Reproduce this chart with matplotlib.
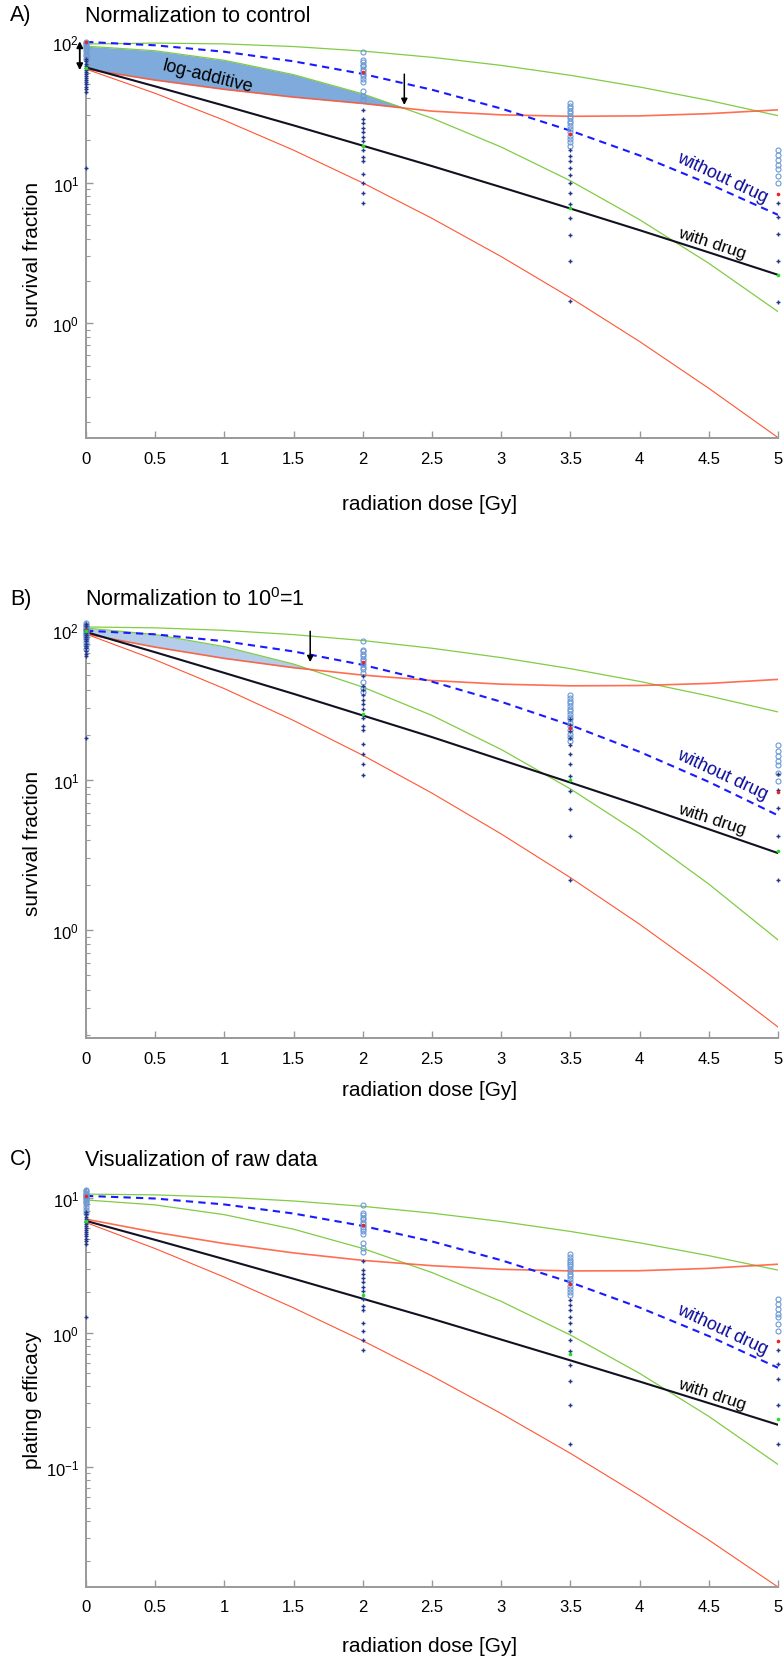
import numpy as np
import matplotlib
matplotlib.use("Agg")
import matplotlib.pyplot as plt
from matplotlib.ticker import LogLocator, FixedLocator, FuncFormatter, NullFormatter, LogFormatterSciNotation

plt.rcParams['font.family'] = ['Liberation Sans', 'DejaVu Sans']
plt.rcParams['mathtext.fontset'] = 'custom'
plt.rcParams['mathtext.rm'] = 'Liberation Sans'
plt.rcParams['mathtext.it'] = 'Liberation Sans:italic'

#----------------------------------------------------------------------
# fitted curves at every 0.5 Gy
doses = [0, 0.5, 1, 1.5, 2, 2.5, 3, 3.5, 4, 4.5, 5]

# A) normalization to control
a_nodrug = [100, 94.6, 85.1, 72.8, 59.2, 45.7, 33.6, 23.4, 15.6, 9.8, 5.9]
a_drug = [65.9, 48.3, 35.2, 25.5, 18.3, 13.1, 9.28, 6.54, 4.59, 3.19, 2.21]
a_green_hi = [96.6, 98.1, 96.8, 92.7, 86.1, 77.7, 68.1, 57.9, 47.8, 38.4, 29.9]
a_green_lo = [93.3, 86.5, 74.0, 58.5, 42.7, 28.7, 17.9, 10.3, 5.45, 2.67, 1.21]
a_red_hi = [64.1, 53.5, 46.0, 40.5, 36.5, 32.2, 30.3, 29.6, 29.8, 30.9, 32.9]
a_red_lo = [64.1, 43.1, 27.7, 17.0, 9.95, 5.57, 2.98, 1.52, 0.742, 0.345, 0.154]

# B) normalization to 10^0 = 1
b_nodrug = [98.9, 93.5, 84.1, 71.9, 58.5, 45.2, 33.2, 23.2, 15.4, 9.7, 5.8]
b_drug = [96.9, 71.0, 51.7, 37.5, 26.9, 19.3, 13.6, 9.6, 6.75, 4.69, 3.25]
b_green_hi = [104.7, 103.3, 99.4, 93.1, 85.0, 75.5, 65.4, 55.2, 45.4, 36.3, 28.4]
b_green_lo = [103.0, 93.2, 77.4, 59.2, 41.6, 26.9, 15.96, 8.71, 4.38, 2.02, 0.857]
b_red_hi = [94.0, 76.8, 64.6, 56.0, 50.0, 46.0, 43.5, 42.4, 42.6, 44.0, 46.8]
b_red_lo = [94.0, 63.2, 40.6, 24.9, 14.6, 8.16, 4.36, 2.23, 1.09, 0.506, 0.225]

# C) raw data (plating efficacy)
c_nodrug = [10.40, 9.94, 8.98, 7.69, 6.22, 4.77, 3.46, 2.37, 1.54, 0.945, 0.549]
c_drug = [6.78, 4.90, 3.52, 2.52, 1.79, 1.27, 0.890, 0.623, 0.434, 0.300, 0.207]
c_green_hi = [10.72, 10.58, 10.17, 9.53, 8.70, 7.74, 6.71, 5.66, 4.66, 3.74, 2.92]
c_green_lo = [9.70, 8.91, 7.54, 5.88, 4.23, 2.80, 1.71, 0.962, 0.499, 0.239, 0.105]
c_red_hi = [6.98, 5.58, 4.60, 3.92, 3.45, 3.15, 2.96, 2.88, 2.89, 3.01, 3.23]
c_red_lo = [6.59, 4.22, 2.59, 1.53, 0.872, 0.477, 0.251, 0.127, 0.0616, 0.0288, 0.0129]

#----------------------------------------------------------------------
# measured plating efficacy (raw), one list per dose
meas_doses = [0, 2, 3.5, 5]
pe_nodrug = [[11.6, 11.3, 11.0, 10.8, 10.6, 10.4, 10.2, 10.0, 9.8, 9.6, 9.3, 9.0, 8.6, 8.2, 7.8],
             [8.84, 7.70, 7.49, 7.18, 6.97, 6.66, 6.45, 6.14, 5.93, 5.67, 5.41, 4.68, 4.26, 4.01],
             [3.85, 3.64, 3.50, 3.37, 3.23, 3.11, 2.98, 2.86, 2.75, 2.64, 2.50, 2.37, 2.24, 2.12, 2.01, 1.90],
             [1.78, 1.63, 1.51, 1.38, 1.30, 1.16, 1.03]]
pe_drug = [[7.9, 7.6, 7.3, 7.0, 6.8, 6.6, 6.4, 6.2, 6.0, 5.8, 5.6, 5.4, 5.2, 5.0, 4.8, 4.6, 1.32],
           [3.41, 2.94, 2.75, 2.54, 2.37, 2.20, 2.05, 1.78, 1.59, 1.48, 1.19, 1.03, 0.88, 0.74],
           [1.76, 1.61, 1.47, 1.31, 1.18, 1.03, 0.88, 0.73, 0.58, 0.44, 0.29, 0.149],
           [0.75, 0.59, 0.45, 0.29, 0.148]]
pe_nodrug_mean = [10.4, 6.32, 2.30, 0.87]
pe_drug_mean = [6.78, 1.90, 0.69, 0.23]

# control plating efficacies used for normalization
ctrl_nodrug = 10.4
ctrl_drug = 6.9

#----------------------------------------------------------------------
W, H = 784, 1658
fig = plt.figure(figsize=(W / 100, H / 100), dpi=100)

GREEN = '#80cc44'
RED = '#ff5533'
BLUE = '#1a1aff'
AXC = '#999999'


def box(top, bottom):
    return [86 / W, 1 - bottom / H, 692 / W, (bottom - top) / H]


def in_range(vals, lo, hi):
    vals = np.asarray(vals, dtype=float)
    return vals[(vals >= lo) & (vals <= hi)]


def draw(ax, nd, dr, ghi, glo, rhi, rlo, f_nd, f_dr, ylim, fill=None, mean_drug_col='#22dd22'):
    ax.set_yscale('log')
    ax.set_xlim(0, 5)
    ax.set_ylim(*ylim)
    if fill is not None:
        g = np.array(glo)
        r = np.array(rhi)
        ax.fill_between(doses, glo, rhi, where=g >= r, interpolate=True,
                        color=fill, lw=0, zorder=1)
    ax.plot(doses, ghi, color=GREEN, lw=0.9, zorder=2)
    ax.plot(doses, glo, color=GREEN, lw=0.9, zorder=2)
    ax.plot(doses, rhi, color=RED, lw=1.2, alpha=0.85, zorder=2)
    ax.plot(doses, rlo, color=RED, lw=0.8, zorder=2)
    ax.plot(doses, dr, color='#111122', lw=1.5, zorder=2)
    ax.plot(doses, nd, color=BLUE, lw=1.5, ls=(0, (3.5, 2.5)), zorder=2)

    lo, hi = ylim
    for d, vn, vd in zip(meas_doses, pe_nodrug, pe_drug):
        yn = in_range(np.array(vn) * f_nd, lo, hi)
        yd = in_range(np.array(vd) * f_dr, lo, hi)
        ax.plot([d] * len(yn), yn, 'o', mfc='none', mec='#6c9ad6', ms=3.6, mew=0.8,
                clip_on=False, zorder=3)
        ax.plot([d] * len(yd), yd, '+', color='#23358c', ms=3.2, mew=1.0,
                clip_on=False, zorder=4)
    mn = np.array(pe_nodrug_mean) * f_nd
    md = np.array(pe_drug_mean) * f_dr
    ax.plot(meas_doses, mn, 'o', color='#ee2222', ms=2.6, mew=0, clip_on=False, zorder=5)
    ax.plot(meas_doses, md, 'o', color=mean_drug_col, ms=2.6, mew=0, clip_on=False, zorder=5)

    for s in ['top', 'right']:
        ax.spines[s].set_visible(False)
    for s in ['left', 'bottom']:
        ax.spines[s].set_color(AXC)
        ax.spines[s].set_linewidth(1.4)
    ax.xaxis.set_major_locator(FixedLocator([0, 0.5, 1, 1.5, 2, 2.5, 3, 3.5, 4, 4.5, 5]))
    ax.xaxis.set_major_formatter(FuncFormatter(lambda v, p: '%g' % v))
    ax.yaxis.set_major_locator(LogLocator(base=10))
    ax.yaxis.set_major_formatter(LogFormatterSciNotation())
    ax.yaxis.set_minor_locator(LogLocator(base=10, subs=np.arange(2, 10)))
    ax.yaxis.set_minor_formatter(NullFormatter())
    ax.tick_params(which='both', direction='in', color=AXC, labelsize=12, labelcolor='black')
    ax.tick_params(which='major', length=5, width=1)
    ax.tick_params(which='minor', length=3, width=0.8)
    ax.tick_params(axis='x', pad=9)
    ax.tick_params(axis='y', pad=5)


def labels(ax, nd_xy, dr_xy, rot_nd=-25, rot_dr=-18):
    ax.text(*nd_xy, 'without drug', color='#0c0c9c', fontsize=13, rotation=rot_nd,
            ha='center', va='center', rotation_mode='anchor')
    ax.text(*dr_xy, 'with drug', color='black', fontsize=12.5, rotation=rot_dr,
            ha='center', va='center', rotation_mode='anchor')


# ---------------- A
axA = fig.add_axes(box(42.3, 439))
draw(axA, a_nodrug, a_drug, a_green_hi, a_green_lo, a_red_hi, a_red_lo,
     100 / ctrl_nodrug, 100 / ctrl_nodrug, (0.153, 101), fill='#7eaadc')
axA.text(0.88, 57, 'log-additive', fontsize=13, rotation=-14, ha='center', va='center',
         rotation_mode='anchor')
labels(axA, (4.6, 11.0), (4.52, 3.76))
axA.annotate('', xy=(-0.045, 63), xytext=(-0.045, 101),
             arrowprops=dict(arrowstyle='<|-|>', color='black', lw=1.3,
                             mutation_scale=9, shrinkA=0, shrinkB=0),
             annotation_clip=False)
axA.annotate('', xy=(2.3, 35.6), xytext=(2.3, 59),
             arrowprops=dict(arrowstyle='-|>', color='black', lw=1.1,
                             mutation_scale=9, shrinkA=0, shrinkB=0))

# ---------------- B
axB = fig.add_axes(box(623, 1039))
draw(axB, b_nodrug, b_drug, b_green_hi, b_green_lo, b_red_hi, b_red_lo,
     100 / ctrl_nodrug, 100 / ctrl_drug, (0.19, 113), fill='#b3cdea')
labels(axB, (4.6, 11.0), (4.52, 5.5))
axB.annotate('', xy=(1.62, 61), xytext=(1.62, 98),
             arrowprops=dict(arrowstyle='-|>', color='black', lw=1.1,
                             mutation_scale=9, shrinkA=0, shrinkB=0))

# ---------------- C
axC = fig.add_axes(box(1190, 1588))
draw(axC, c_nodrug, c_drug, c_green_hi, c_green_lo, c_red_hi, c_red_lo,
     1.0, 1.0, (0.0129, 11.7))
labels(axC, (4.6, 1.07), (4.52, 0.35))

#----------------------------------------------------------------------
# titles and axis labels
def px(x, y):
    return x / W, 1 - y / H

for letter, title, y in [('A)', 'Normalization to control', 16),
                         ('B)', 'Normalization to $10^0$=1', 600),
                         ('C)', 'Visualization of raw data', 1160)]:
    fig.text(*px(10, y), letter, fontsize=15.5, ha='left', va='center')
    fig.text(*px(85, y), title, fontsize=15.5, ha='left', va='center')

for lab, y in [('survival fraction', 254), ('survival fraction', 843), ('plating efficacy', 1400)]:
    fig.text(*px(33, y), lab, fontsize=15, rotation=90, ha='center', va='center')

for y in [505, 1090, 1647]:
    fig.text(*px(430, y), 'radiation dose [Gy]', fontsize=15, ha='center', va='center')

fig.savefig('out.png', dpi=100)
